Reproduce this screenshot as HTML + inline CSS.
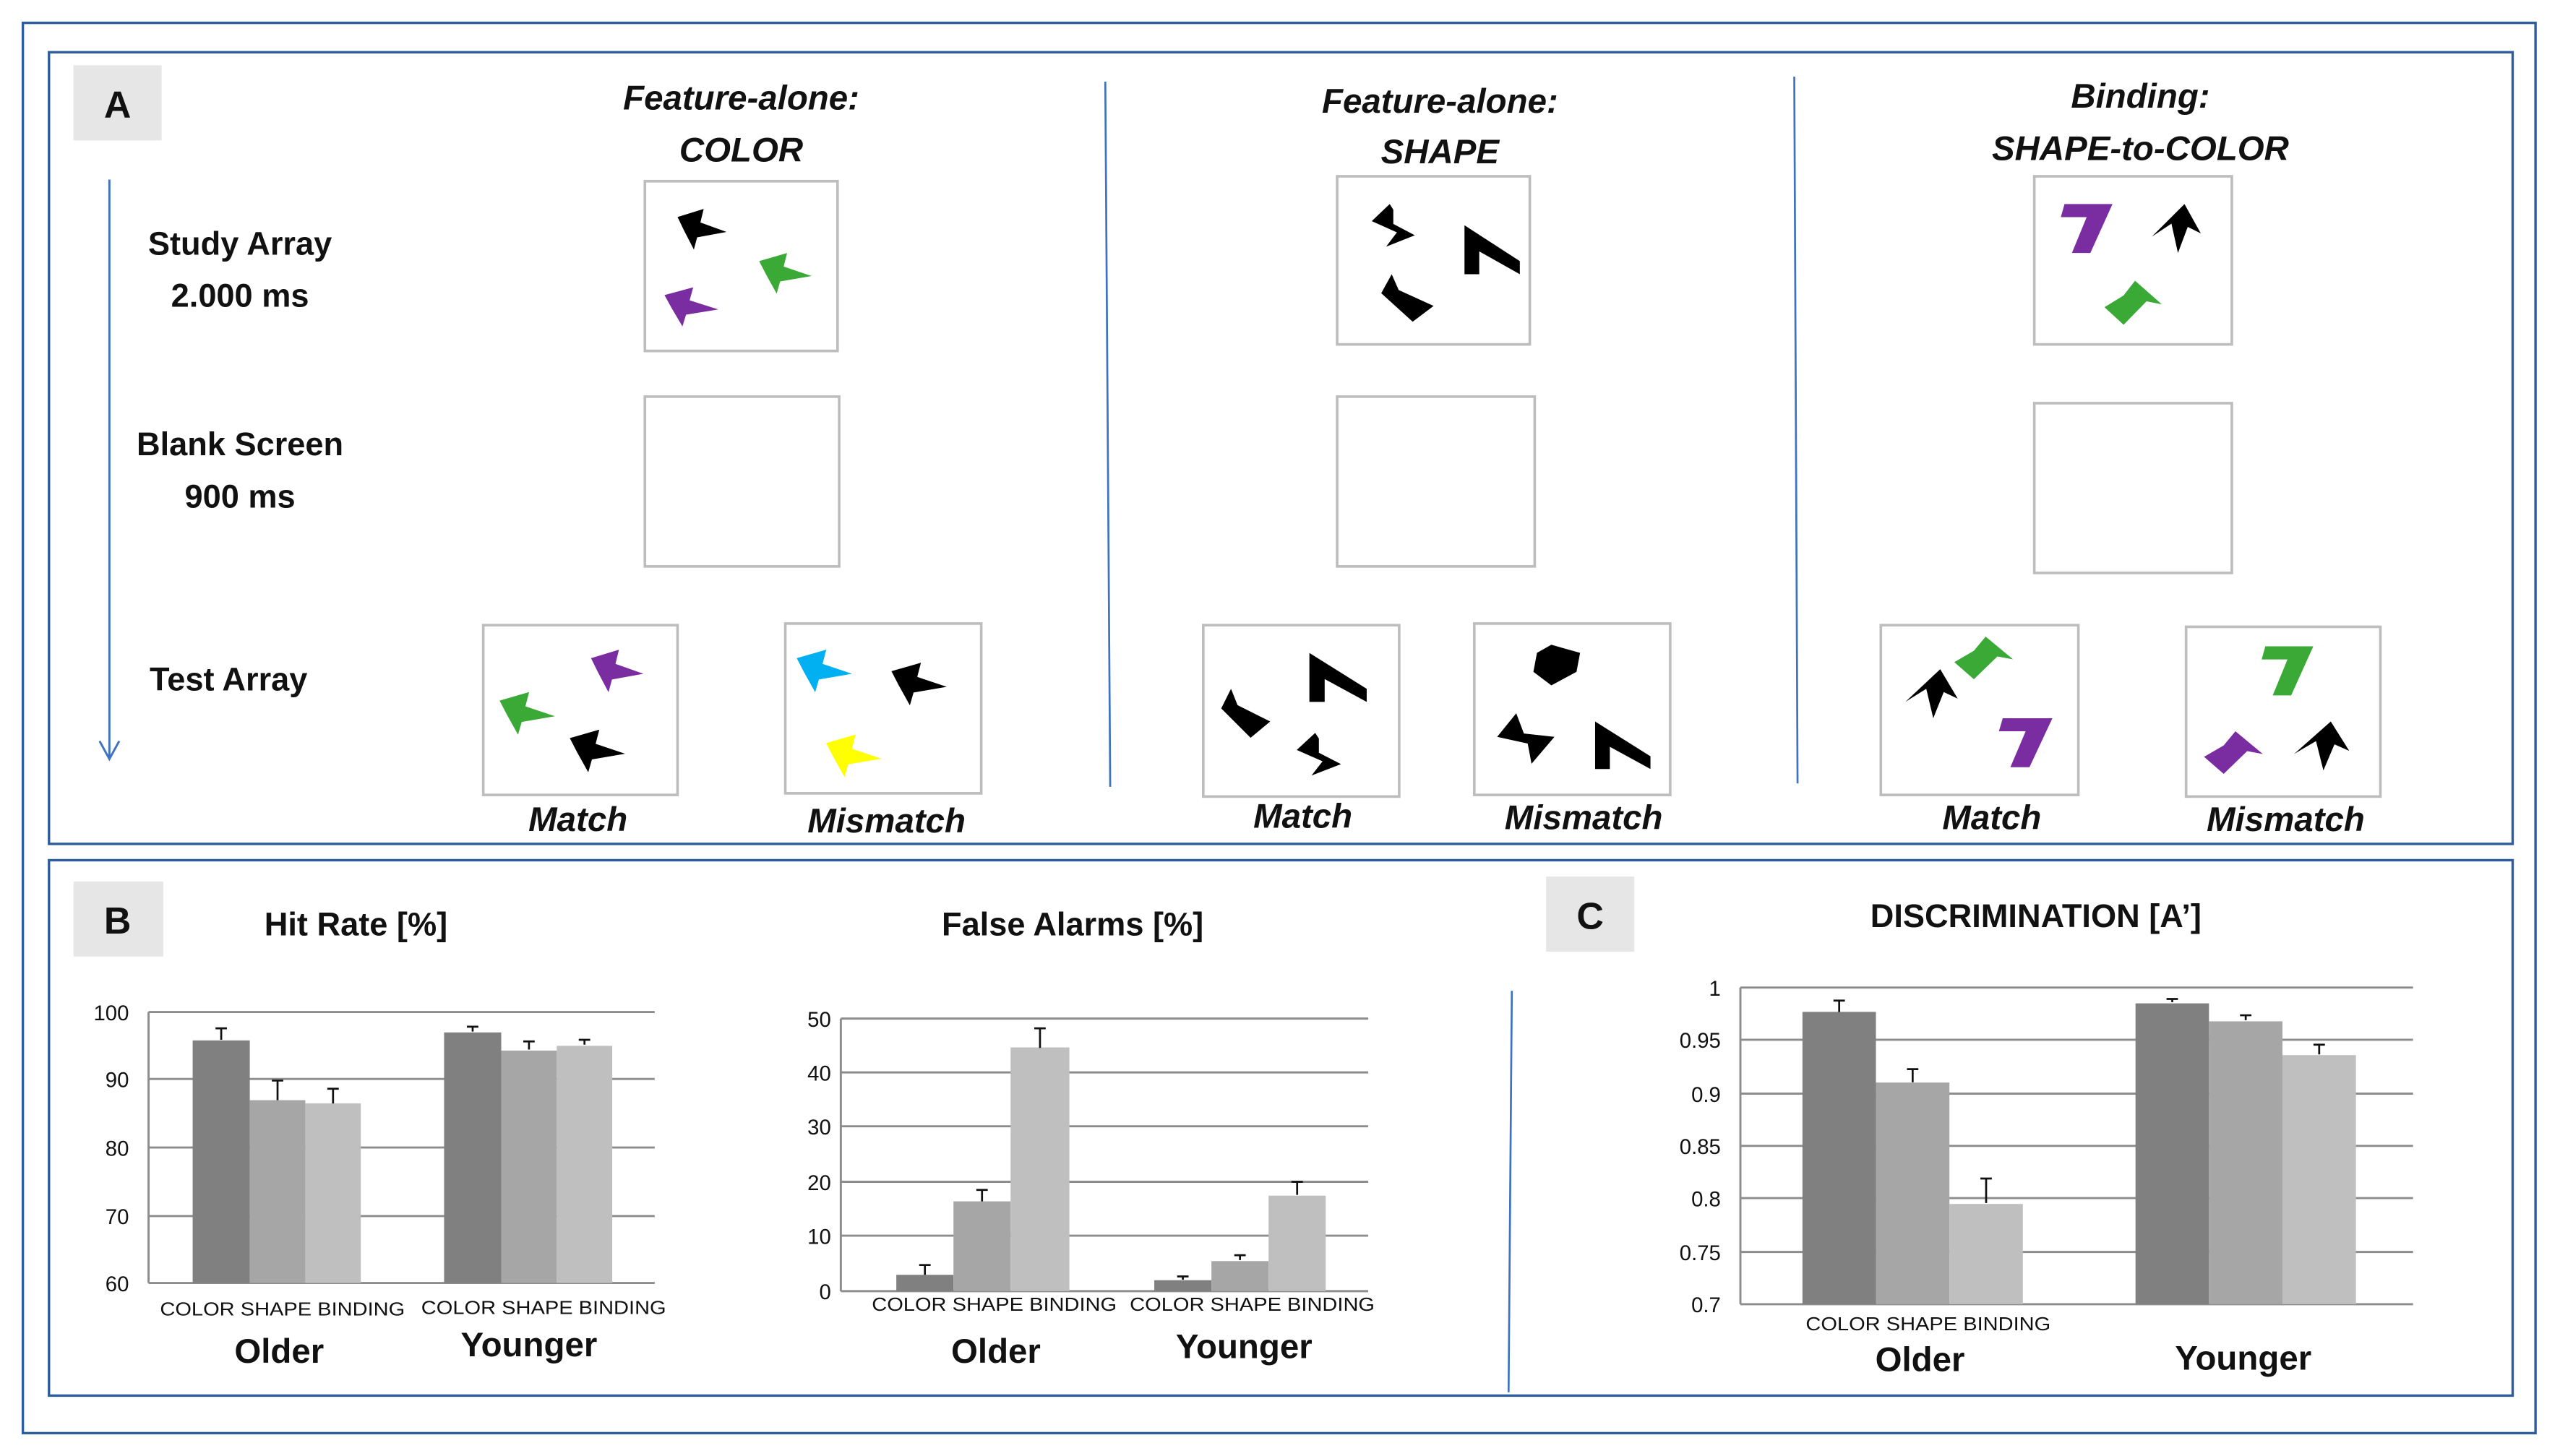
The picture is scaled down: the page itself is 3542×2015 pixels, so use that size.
<!DOCTYPE html>
<html><head><meta charset="utf-8"><style>
html,body{margin:0;padding:0;background:#fff;}
svg{display:block;}
text{font-family:"Liberation Sans",sans-serif;fill:#111;}
.b{font-weight:bold;}
.h{font-weight:bold;font-style:italic;font-size:21px;}
.lab{font-weight:bold;font-size:20px;}
.tk{font-size:13px;}
.cat{font-size:11.5px;}
.box{fill:#fff;stroke:#bdbdbd;stroke-width:1.6;}
.grid{stroke:#8c8c8c;stroke-width:1.3;}
.eb{stroke:#111;stroke-width:1.2;fill:none;}
</style></head><body>
<svg width="3542" height="2015" viewBox="0 0 1568 892" preserveAspectRatio="none" xmlns="http://www.w3.org/2000/svg">
<defs>
<polygon id="flag" points="0,6 16,0 14,10 30,17 12,21 10,30 4,16"/>
<polygon id="sbolt" points="12,0 2,12 16,20 10,30 26,22 14,14 14,4"/>
<polygon id="nflag" points="0,0 30,22 30,30 8,16 8,30 0,30"/>
<polygon id="para" points="6,0 0,12 18,30 30,20 10,10"/>
<polygon id="hex" points="12,0 28,6 26,20 12,30 2,20 4,6"/>
<polygon id="seven" points="4,0 30,0 18,30 8,30 16,8 2,8"/>
<polygon id="bird" points="20,0 30,18 22,14 16,30 12,12 0,20"/>
<polygon id="house" points="16,0 30,16 22,14 10,30 0,18 10,10"/>
<polygon id="star" points="10,0 14,12 30,14 18,30 16,18 0,14"/>
</defs>
<!-- outer borders -->
<rect x="14" y="14" width="1539" height="864" fill="none" stroke="#2d5d9c" stroke-width="1.5"/>
<rect x="30" y="32" width="1509" height="485" fill="none" stroke="#2d5d9c" stroke-width="1.5"/>
<rect x="30" y="527" width="1509" height="328" fill="none" stroke="#2d5d9c" stroke-width="1.5"/>

<!-- Panel A -->
<rect x="45" y="40" width="54" height="46" fill="#e6e6e6"/>
<text x="72" y="72" class="b" font-size="23" text-anchor="middle">A</text>
<line x1="67" y1="110" x2="67" y2="465" stroke="#3f72c0" stroke-width="1.3"/>
<polyline points="61,454 67,465 73,454" fill="none" stroke="#3f72c0" stroke-width="1.3"/>
<text x="147" y="156" class="lab" text-anchor="middle">Study Array</text>
<text x="147" y="188" class="lab" text-anchor="middle">2.000 ms</text>
<text x="147" y="279" class="lab" text-anchor="middle">Blank Screen</text>
<text x="147" y="311" class="lab" text-anchor="middle">900 ms</text>
<text x="140" y="423" class="lab" text-anchor="middle">Test Array</text>

<text x="454" y="67" class="h" text-anchor="middle">Feature-alone:</text>
<text x="454" y="99" class="h" text-anchor="middle">COLOR</text>
<text x="882" y="69" class="h" text-anchor="middle">Feature-alone:</text>
<text x="882" y="100" class="h" text-anchor="middle">SHAPE</text>
<text x="1311" y="66" class="h" text-anchor="middle">Binding:</text>
<text x="1311" y="98" class="h" text-anchor="middle">SHAPE-to-COLOR</text>

<line x1="677" y1="50" x2="680" y2="482" stroke="#3f72c0" stroke-width="1.2"/>
<line x1="1099" y1="47" x2="1101" y2="480" stroke="#3f72c0" stroke-width="1.2"/>

<!-- col1 -->
<rect class="box" x="395" y="111" width="118" height="104"/>
<rect class="box" x="395" y="243" width="119" height="104"/>
<rect class="box" x="296" y="383" width="119" height="104"/>
<rect class="box" x="481" y="382" width="120" height="104"/>
<use href="#flag" fill="#000" transform="translate(415,128) scale(1.0,0.83)"/>
<use href="#flag" fill="#3aa935" transform="translate(465,155) scale(1.07,0.83)"/>
<use href="#flag" fill="#7a2da0" transform="translate(407,176) scale(1.1,0.8)"/>
<use href="#flag" fill="#7a2da0" transform="translate(362,398) scale(1.07,0.87)"/>
<use href="#flag" fill="#3aa935" transform="translate(306,424) scale(1.13,0.87)"/>
<use href="#flag" fill="#000" transform="translate(349,447) scale(1.13,0.87)"/>
<use href="#flag" fill="#00b0f0" transform="translate(488,398) scale(1.13,0.87)"/>
<use href="#flag" fill="#000" transform="translate(546,406) scale(1.13,0.87)"/>
<use href="#flag" fill="#ffff00" transform="translate(506,450) scale(1.13,0.87)"/>
<text x="354" y="509" class="h" font-size="20" text-anchor="middle">Match</text>
<text x="543" y="510" class="h" font-size="20" text-anchor="middle">Mismatch</text>

<!-- col2 -->
<rect class="box" x="819" y="108" width="118" height="103"/>
<rect class="box" x="819" y="243" width="121" height="104"/>
<rect class="box" x="737" y="383" width="120" height="105"/>
<rect class="box" x="903" y="382" width="120" height="105"/>
<use href="#sbolt" fill="#000" transform="translate(838,125) scale(1.1,0.87)"/>
<use href="#nflag" fill="#000" transform="translate(897,138) scale(1.13,1.0)"/>
<use href="#para" fill="#000" transform="translate(846,168) scale(1.07,0.97)"/>
<use href="#para" fill="#000" transform="translate(748,422) scale(1.0,1.0)"/>
<use href="#nflag" fill="#000" transform="translate(802,400) scale(1.17,1.0)"/>
<use href="#sbolt" fill="#000" transform="translate(792,449) scale(1.13,0.87)"/>
<use href="#hex" fill="#000" transform="translate(937,395) scale(1.1,0.83)"/>
<use href="#star" fill="#000" transform="translate(917,437) scale(1.17,1.03)"/>
<use href="#nflag" fill="#000" transform="translate(977,442) scale(1.13,0.97)"/>
<text x="798" y="507" class="h" font-size="20" text-anchor="middle">Match</text>
<text x="970" y="508" class="h" font-size="20" text-anchor="middle">Mismatch</text>

<!-- col3 -->
<rect class="box" x="1246" y="108" width="121" height="103"/>
<rect class="box" x="1246" y="247" width="121" height="104"/>
<rect class="box" x="1152" y="383" width="121" height="104"/>
<rect class="box" x="1339" y="384" width="119" height="104"/>
<use href="#seven" fill="#7a2da0" transform="translate(1260,125) scale(1.13,1.0)"/>
<use href="#bird" fill="#000" transform="translate(1318,125) scale(1.0,1.0)"/>
<use href="#house" fill="#3aa935" transform="translate(1289,172) scale(1.17,0.9)"/>
<use href="#house" fill="#3aa935" transform="translate(1197,390) scale(1.2,0.87)"/>
<use href="#bird" fill="#000" transform="translate(1167,410) scale(1.07,1.0)"/>
<use href="#seven" fill="#7a2da0" transform="translate(1222,440) scale(1.17,1.0)"/>
<use href="#seven" fill="#3aa935" transform="translate(1383,396) scale(1.13,1.0)"/>
<use href="#house" fill="#7a2da0" transform="translate(1350,448) scale(1.2,0.87)"/>
<use href="#bird" fill="#000" transform="translate(1405,442) scale(1.13,1.0)"/>
<text x="1220" y="508" class="h" font-size="20" text-anchor="middle">Match</text>
<text x="1400" y="509" class="h" font-size="20" text-anchor="middle">Mismatch</text>

<!-- Panel B -->
<rect x="45" y="540" width="55" height="46" fill="#e6e6e6"/>
<text x="72" y="572" class="b" font-size="23" text-anchor="middle">B</text>
<text x="218" y="573" class="b" font-size="20" text-anchor="middle">Hit Rate [%]</text>
<text x="657" y="573" class="b" font-size="20" text-anchor="middle">False Alarms [%]</text>

<!-- chart 1 -->
<g class="grid">
<line x1="91" y1="620" x2="401" y2="620"/><line x1="91" y1="661" x2="401" y2="661"/>
<line x1="91" y1="703" x2="401" y2="703"/><line x1="91" y1="745" x2="401" y2="745"/>
<line x1="91" y1="786" x2="401" y2="786"/><line x1="91" y1="620" x2="91" y2="786"/>
</g>
<g class="tk" text-anchor="end">
<text x="79" y="625">100</text><text x="79" y="666">90</text><text x="79" y="708">80</text><text x="79" y="750">70</text><text x="79" y="791">60</text>
</g>
<rect x="118" y="637.4" width="35" height="148.6" fill="#808080"/>
<rect x="153" y="674" width="34" height="112" fill="#a6a6a6"/>
<rect x="187" y="676" width="34" height="110" fill="#bfbfbf"/>
<rect x="272" y="632.5" width="35" height="153.5" fill="#808080"/>
<rect x="307" y="643.6" width="34" height="142.4" fill="#a6a6a6"/>
<rect x="341" y="640.7" width="34" height="145.3" fill="#bfbfbf"/>
<path class="eb" d="M135.5,637 V630 M132,630 H139 M170,674 V662 M166.5,662 H173.5 M204,676 V667 M200.5,667 H207.5 M289.5,632 V629 M286,629 H293 M324,643 V638 M320.5,638 H327.5 M358,640 V637 M354.5,637 H361.5"/>
<text x="173" y="806" class="cat" text-anchor="middle" textLength="150" lengthAdjust="spacingAndGlyphs">COLOR SHAPE BINDING</text>
<text x="333" y="805" class="cat" text-anchor="middle" textLength="150" lengthAdjust="spacingAndGlyphs">COLOR SHAPE BINDING</text>
<text x="171" y="835" class="b" font-size="21" text-anchor="middle">Older</text>
<text x="324" y="831" class="b" font-size="21" text-anchor="middle">Younger</text>

<!-- chart 2 -->
<g class="grid">
<line x1="515" y1="624" x2="838" y2="624"/><line x1="515" y1="657" x2="838" y2="657"/>
<line x1="515" y1="690" x2="838" y2="690"/><line x1="515" y1="724" x2="838" y2="724"/>
<line x1="515" y1="757" x2="838" y2="757"/><line x1="515" y1="791" x2="838" y2="791"/>
<line x1="515" y1="624" x2="515" y2="791"/>
</g>
<g class="tk" text-anchor="end">
<text x="509" y="629">50</text><text x="509" y="662">40</text><text x="509" y="695">30</text><text x="509" y="729">20</text><text x="509" y="762">10</text><text x="509" y="796">0</text>
</g>
<rect x="549" y="781" width="35" height="10" fill="#808080"/>
<rect x="584" y="736" width="35" height="55" fill="#a6a6a6"/>
<rect x="619" y="641.7" width="36" height="149.3" fill="#bfbfbf"/>
<rect x="707" y="784.3" width="35" height="6.7" fill="#808080"/>
<rect x="742" y="772.6" width="35" height="18.4" fill="#a6a6a6"/>
<rect x="777" y="732.5" width="35" height="58.5" fill="#bfbfbf"/>
<path class="eb" d="M566.5,781 V775 M563,775 H570 M601.5,736 V729 M598,729 H605 M637,642 V630 M633.5,630 H640.5 M724.5,784 V782 M721,782 H728 M759.5,772 V769 M756,769 H763 M794.5,732 V724 M791,724 H798"/>
<text x="609" y="803" class="cat" text-anchor="middle" textLength="150" lengthAdjust="spacingAndGlyphs">COLOR SHAPE BINDING</text>
<text x="767" y="803" class="cat" text-anchor="middle" textLength="150" lengthAdjust="spacingAndGlyphs">COLOR SHAPE BINDING</text>
<text x="610" y="835" class="b" font-size="21" text-anchor="middle">Older</text>
<text x="762" y="832" class="b" font-size="21" text-anchor="middle">Younger</text>

<line x1="926" y1="607" x2="924" y2="853" stroke="#3f72c0" stroke-width="1.2"/>

<!-- Panel C -->
<rect x="947" y="537" width="54" height="46" fill="#e6e6e6"/>
<text x="974" y="569" class="b" font-size="23" text-anchor="middle">C</text>
<text x="1247" y="568" class="b" font-size="20" text-anchor="middle">DISCRIMINATION [A’]</text>
<g class="grid">
<line x1="1066" y1="605" x2="1478" y2="605"/><line x1="1066" y1="637" x2="1478" y2="637"/>
<line x1="1066" y1="670" x2="1478" y2="670"/><line x1="1066" y1="702" x2="1478" y2="702"/>
<line x1="1066" y1="734" x2="1478" y2="734"/><line x1="1066" y1="767" x2="1478" y2="767"/>
<line x1="1066" y1="799" x2="1478" y2="799"/><line x1="1066" y1="605" x2="1066" y2="799"/>
</g>
<g class="tk" text-anchor="end">
<text x="1054" y="610">1</text><text x="1054" y="642">0.95</text><text x="1054" y="675">0.9</text><text x="1054" y="707">0.85</text><text x="1054" y="739">0.8</text><text x="1054" y="772">0.75</text><text x="1054" y="804">0.7</text>
</g>
<rect x="1104" y="619.9" width="45" height="179.1" fill="#808080"/>
<rect x="1149" y="663.2" width="45" height="135.8" fill="#a6a6a6"/>
<rect x="1194" y="737.6" width="45" height="61.4" fill="#bfbfbf"/>
<rect x="1308" y="614.7" width="45" height="184.3" fill="#808080"/>
<rect x="1353" y="625.7" width="45" height="173.3" fill="#a6a6a6"/>
<rect x="1398" y="646.4" width="45" height="152.6" fill="#bfbfbf"/>
<path class="eb" d="M1126.5,620 V613 M1123,613 H1130 M1171.5,663 V655 M1168,655 H1175 M1216.5,737 V722 M1213,722 H1220 M1330.5,614 V612 M1327,612 H1334 M1375.5,625 V622 M1372,622 H1379 M1420.5,646 V640 M1417,640 H1424"/>
<text x="1181" y="815" class="cat" text-anchor="middle" textLength="150" lengthAdjust="spacingAndGlyphs">COLOR SHAPE BINDING</text>
<text x="1176" y="840" class="b" font-size="21" text-anchor="middle">Older</text>
<text x="1374" y="839" class="b" font-size="21" text-anchor="middle">Younger</text>
</svg>
</body></html>
